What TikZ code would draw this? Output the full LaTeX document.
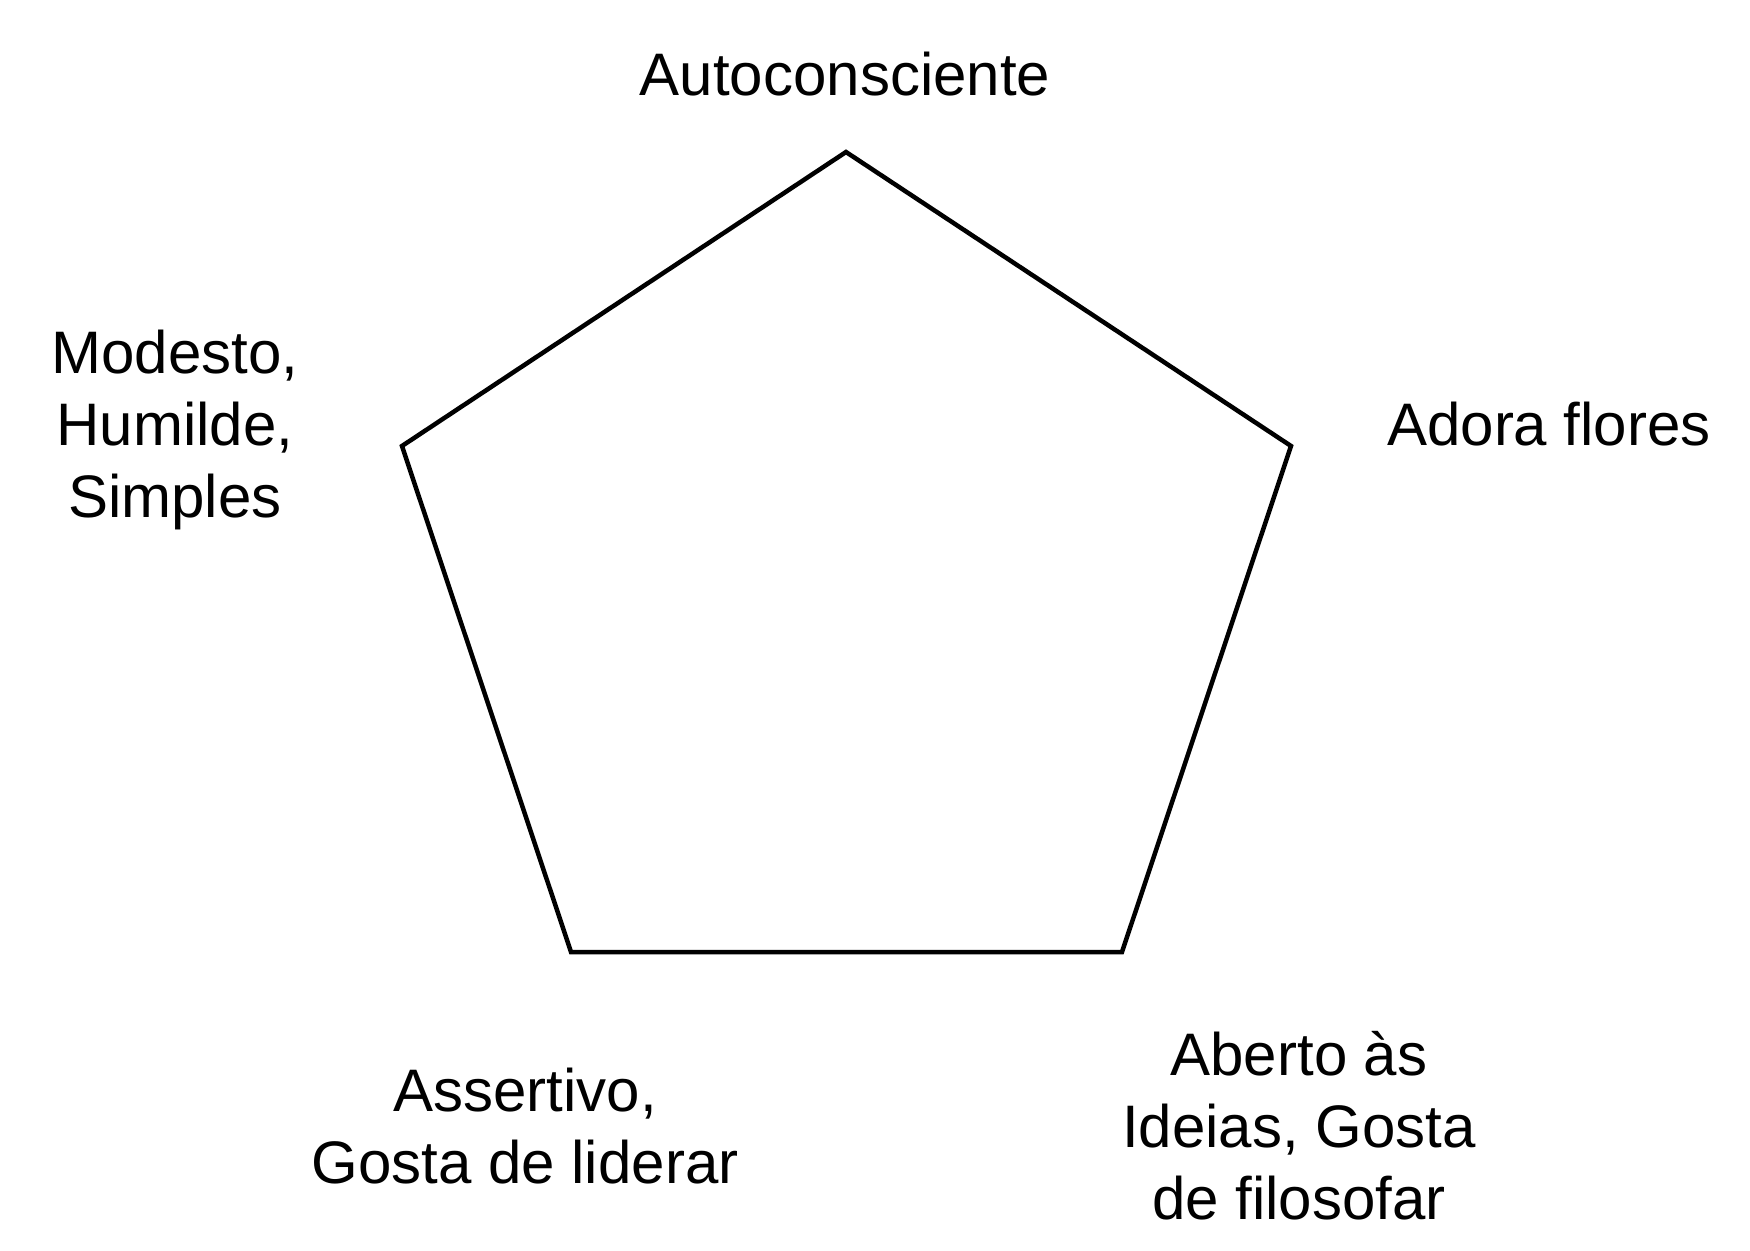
\documentclass[tikz,border=0pt]{standalone}
\usepackage{fontspec}
\setmainfont{Liberation Sans}
\begin{document}
\begin{tikzpicture}[x=1pt,y=-1pt,
  lbl/.style={inner sep=0pt,align=center,font=\fontsize{60}{72}\selectfont}]
\useasboundingbox (0,0) rectangle (1750,1250);
\coordinate (t) at (846,152);
\coordinate (r) at (1291,446);
\coordinate (br) at (1122,952);
\coordinate (bl) at (571,952);
\coordinate (l) at (402,446);
\draw[line width=4.5pt,line join=miter] (t) -- (r) -- (br) -- (bl) -- (l) -- cycle;
\node[lbl,anchor=base] (auto) at (845,95) {Autoconsciente};
\node[lbl] (mod) at (175,430) {Modesto,\\Humilde,\\Simples};
\node[lbl] (ado) at (1549,424) {Adora flores};
\node[lbl] (ass) at (525,1126) {Assertivo,\\Gosta de liderar};
\node[lbl] (abe) at (1299,1126) {Aberto às\\Ideias, Gosta\\de filosofar};
\end{tikzpicture}
\end{document}
